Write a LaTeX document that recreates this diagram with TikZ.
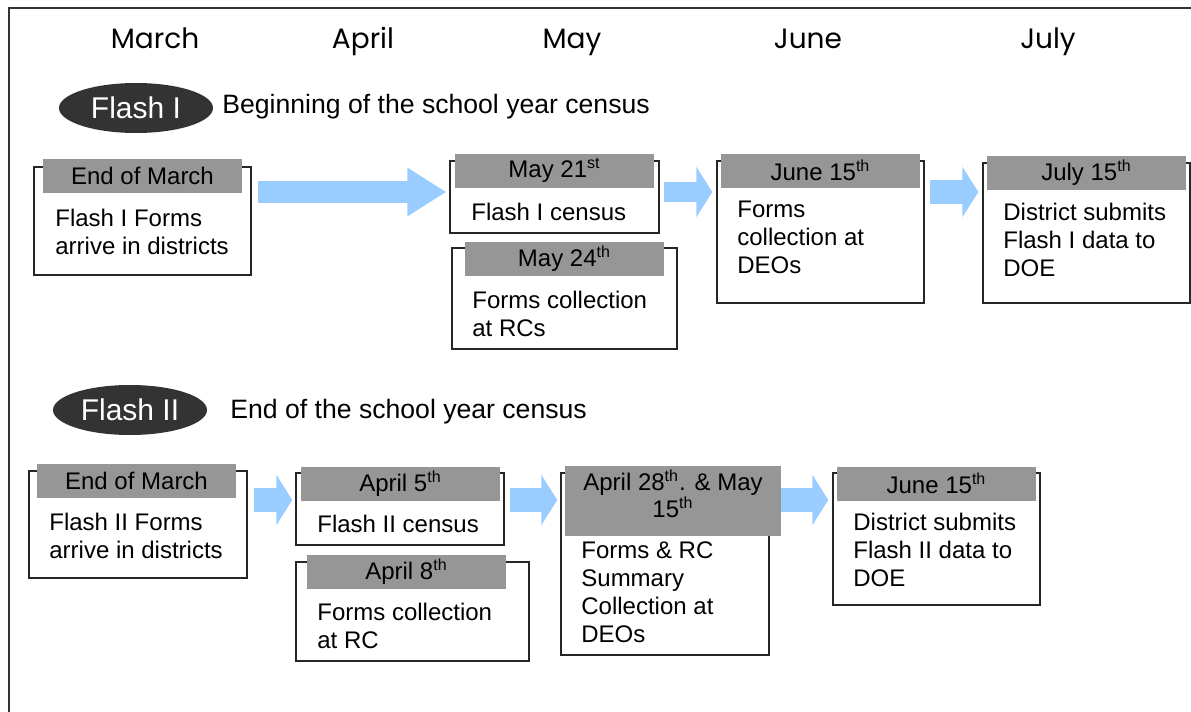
\documentclass[tikz,border=0pt]{standalone}
\usepackage{fontspec}
\setmainfont{Liberation Sans}
\newfontfamily\monthfont{Poppins}
\usetikzlibrary{fit}
\usetikzlibrary{shapes.geometric}
\usetikzlibrary{arrows.meta}
\definecolor{headgray}{HTML}{969696}
\definecolor{flowblue}{HTML}{99CCFF}
\definecolor{flashdark}{HTML}{333333}
\newcommand{\monthlabel}[3]{\node[month] (#1) at (#2,48) {#3};}
\newcommand{\dsup}[1]{\textsuperscript{#1}}

\tikzset{
  month/.style={anchor=base, inner sep=0pt, font=\monthfont\fontsize{14}{16}\selectfont},
  flash/.style={ellipse, fill=flashdark, text=white, inner sep=0pt, minimum width=77pt, minimum height=25pt, font=\fontsize{15}{17}\selectfont},
  census/.style={anchor=west, inner sep=0pt, font=\fontsize{13.3}{16}\selectfont},
  stagebox/.style={draw=black!85, line width=0.7pt, fill=white, inner sep=0pt},
  stagehead/.style={fill=headgray, inner sep=0pt, align=center, minimum width=99.5pt, minimum height=17pt},
  stagetext/.style={anchor=north west, inner sep=0pt, align=left},
  flow/.style={draw=flowblue, line width=12pt, -{Triangle[length=8pt,width=25pt]}},
}

\begin{document}
\begin{tikzpicture}[x=0.5pt, y=-0.5pt, font=\fontsize{12}{14}\selectfont]
\useasboundingbox (0,0) rectangle (1191,712);
%frame
\draw[black!80, line width=1pt] (9,712) -- (9,8) -- (1191,8);

%months
\monthlabel{march}{155}{March}
\monthlabel{april}{363}{April}
\monthlabel{may}{572}{May}
\monthlabel{june}{808}{June}
\monthlabel{july}{1048}{July}

%flash I
\node[flash] (flashI) at (136,108) {Flash I};
\node[census] (censusI) at (222,107) {Beginning of the school year census};
\coordinate (rowI) at (0,192);

\node[stagebox, fit={(34,167) (251,275)}] (a1) {};
\node[stagehead] (a1h) at (142.5,176) {End of March};
\node[stagetext] (a1t) at (55,209) {Flash I Forms\\arrive in districts};

\node[stagebox, fit={(450,161) (659,233)}] (a2) {};
\node[stagehead] (a2h) at (554.5,170.5) {May 21\dsup{st}};
\node[stagetext] (a2t) at (471,203) {Flash I census};

\node[stagebox, fit={(452,248) (677,349)}] (a3) {};
\node[stagehead] (a3h) at (564.5,259) {May 24\dsup{th}};
\node[stagetext] (a3t) at (472,291) {Forms collection\\at RCs};

\node[stagebox, fit={(717,161) (924,303)}] (a4) {};
\node[stagehead] (a4h) at (820.5,170.5) {June 15\dsup{th}};
\node[stagetext] (a4t) at (737,201) {Forms\\collection at\\DEOs};

\node[stagebox, fit={(983,163) (1190,303)}] (a5) {};
\node[stagehead] (a5h) at (1086.5,172.5) {July 15\dsup{th}};
\node[stagetext] (a5t) at (1003,203) {District submits\\Flash I data to\\DOE};

\draw[flow, line width=11pt, -{Triangle[length=19.5pt,width=23pt]}, shorten <=3pt, shorten >=1.5pt] (a1.east |- rowI) -- (a2.west |- rowI);
\draw[flow, line width=10pt, shorten <=2pt, shorten >=2pt] (a2.east |- rowI) -- (a4.west |- rowI);
\draw[flow, shorten <=2.5pt, shorten >=2pt] (a4.east |- rowI) -- (a5.west |- rowI);

%flash II
\node[flash] (flashII) at (130,410) {Flash II};
\node[census] (censusII) at (230,412) {End of the school year census};
\coordinate (rowII) at (0,500);

\node[stagebox, fit={(29,471) (247,578)}] (b1) {};
\node[stagehead] (b1h) at (136.5,481) {End of March};
\node[stagetext] (b1t) at (49,513) {Flash II Forms\\arrive in districts};

\node[stagebox, fit={(296,473) (504,545)}] (b2) {};
\node[stagehead] (b2h) at (400.5,483.5) {April 5\dsup{th}};
\node[stagetext] (b2t) at (317,515) {Flash II census};

\node[stagebox, fit={(296,562) (529,661)}] (b3) {};
\node[stagehead] (b3h) at (406.5,571.5) {April 8\dsup{th}};
\node[stagetext] (b3t) at (317,603) {Forms collection\\at RC};

\node[stagebox, fit={(561,473) (769,655)}] (b4) {};
\node[stagehead, minimum width=108pt, minimum height=35pt] (b4h) at (673,501) {};
\node[inner sep=0pt, align=center, font=\fontsize{12}{12.5}\selectfont] (b4ht) at (673,494) {April 28\dsup{th}. \& May\\15\dsup{th}};
\node[stagetext] (b4t) at (581,541) {Forms \& RC\\Summary\\Collection at\\DEOs};

\node[stagebox, fit={(833,473) (1040,605)}] (b5) {};
\node[stagehead] (b5h) at (936.5,483.5) {June 15\dsup{th}};
\node[stagetext] (b5t) at (853,513) {District submits\\Flash II data to\\DOE};

\draw[flow, shorten <=3pt, shorten >=1.5pt] (b1.east |- rowII) -- (b2.west |- rowII);
\draw[flow, shorten <=2.5pt, shorten >=1.5pt] (b2.east |- rowII) -- (b4.west |- rowII);
\draw[flow, shorten >=2pt] (b4h.east |- rowII) -- (b5.west |- rowII);
\end{tikzpicture}
\end{document}
